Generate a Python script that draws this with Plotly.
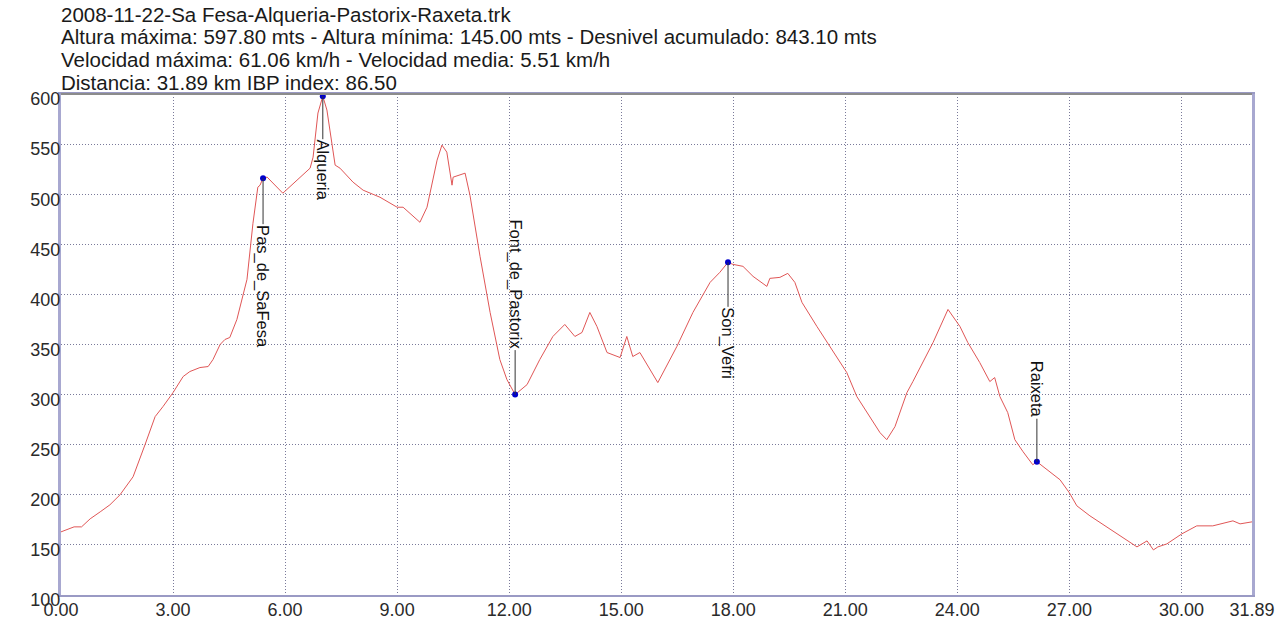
import plotly.graph_objects as go

# ---- data ----
dist_km = [0.0, 0.2, 0.35, 0.55, 0.78, 1.05, 1.31, 1.58, 1.93, 2.25, 2.52, 2.73, 3.0, 3.27, 3.45,
           3.72, 3.94, 4.07, 4.26, 4.39, 4.52, 4.71, 4.87, 4.98, 5.14, 5.27, 5.33, 5.41, 5.52, 5.68,
           5.94, 6.32, 6.67, 6.75, 6.88, 7.01, 7.12, 7.2, 7.34, 7.47, 7.82, 8.09, 8.54, 9.0, 9.16,
           9.61, 9.8, 10.07, 10.2, 10.33, 10.47, 10.5, 10.82, 10.95, 11.22, 11.49, 11.75, 11.94, 12.16,
           12.48, 12.82, 13.17, 13.49, 13.76, 13.95, 14.16, 14.35, 14.62, 14.97, 15.15, 15.31, 15.5,
           15.98, 16.49, 16.92, 17.38, 17.64, 17.86, 17.99, 18.26, 18.53, 18.9, 18.98, 19.25, 19.46,
           19.65, 19.84, 20.24, 20.59, 21.04, 21.31, 21.66, 21.93, 22.11, 22.33, 22.65, 22.81, 23.35,
           23.75, 24.07, 24.28, 24.6, 24.87, 25.0, 25.14, 25.35, 25.54, 25.76, 26.02, 26.13, 26.4,
           26.75, 27.0, 27.2, 27.55, 28.0, 28.54, 28.81, 29.08, 29.25, 29.37, 29.61, 30.01, 30.41,
           30.84, 31.38, 31.57, 31.89]
elev_m = [163, 166, 168, 168, 176, 183, 190, 200, 218, 250, 278, 288, 302, 318, 323,
          327, 328, 335, 350, 355, 357, 375, 398, 415, 471, 507, 509, 516, 517, 511,
          501, 514, 526, 537, 581, 597.8, 584, 564, 529, 526, 512, 504, 497, 487, 487,
          472, 487, 534, 549, 542, 509, 517, 521, 499, 438, 382, 335, 315, 300,
          310, 335, 358, 370, 358, 362, 382, 368, 342, 337, 358, 338, 342,
          312, 348, 382, 412, 422, 432, 430, 428, 418, 408, 416, 417, 421,
          412, 392, 368, 348, 322, 298, 278, 262, 255, 268, 302, 313, 352,
          385, 368, 352, 332, 313, 317, 298, 282, 255, 243, 230, 233, 225,
          215, 202, 189, 179, 168, 154, 148, 154, 145, 148, 151, 161, 169,
          169, 174, 171, 173]

wp_names = ["Pas_de_SaFesa", "Alqueria", "Font_de_Pastorix", "Son_Vefri", "Raixeta"]
wp_dist = [5.41, 7.01, 12.16, 17.86, 26.13]
wp_elev = [516, 597.8, 300, 432, 233]
wp_label_offset = [108, 74, -110, 81, -72]  # label centre offset below marker, px

x_ticks = [0, 3, 6, 9, 12, 15, 18, 21, 24, 27, 30, 31.89]
x_tick_text = ["0.00", "3.00", "6.00", "9.00", "12.00", "15.00", "18.00", "21.00",
               "24.00", "27.00", "30.00", "31.89"]
y_ticks = [100, 150, 200, 250, 300, 350, 400, 450, 500, 550, 600]

header_lines = [
    "2008-11-22-Sa Fesa-Alqueria-Pastorix-Raxeta.trk",
    "Altura máxima: 597.80 mts - Altura mínima: 145.00 mts - Desnivel acumulado: 843.10 mts",
    "Velocidad máxima: 61.06 km/h - Velocidad media: 5.51 km/h",
    "Distancia: 31.89 km IBP index: 86.50",
]
header_shift = [80, 58, 35, 12]

FONT = "Liberation Sans, Arial, sans-serif"

fig = go.Figure()
fig.add_trace(go.Scatter(x=dist_km, y=elev_m, mode="lines",
                         line=dict(color="#e05656", width=1), hoverinfo="skip",
                         showlegend=False))
fig.add_trace(go.Scatter(x=wp_dist, y=wp_elev, mode="markers",
                         marker=dict(color="#0000cc", size=6), showlegend=False))

annotations = []
for name, x, y, off in zip(wp_names, wp_dist, wp_elev, wp_label_offset):
    annotations.append(dict(x=x, y=y, xref="x", yref="y", text=name, textangle=90,
                            showarrow=True, ax=0, ay=off, arrowhead=0, arrowwidth=1,
                            arrowcolor="#333333", standoff=0, borderpad=0,
                            font=dict(family=FONT, size=16.5, color="#111111")))
for line, sh in zip(header_lines, header_shift):
    annotations.append(dict(x=0, y=1, xref="paper", yref="paper", xanchor="left",
                            yanchor="middle", yshift=sh, xshift=-1, borderpad=0, text=line,
                            showarrow=False,
                            font=dict(family=FONT, size=20.5, color="#1a1a1a")))

grid = dict(showgrid=True, gridcolor="#7a7a9a", griddash="1px,2px", gridwidth=1,
            zeroline=False, ticks="", automargin=False,
            tickfont=dict(family=FONT, size=18, color="#2a2a2a"))

fig.update_layout(
    width=1280, height=624,
    margin=dict(l=61, r=28, t=94, b=29, autoexpand=False),
    paper_bgcolor="white", plot_bgcolor="white",
    annotations=annotations,
    showlegend=False,
    shapes=[dict(type="line", xref="paper", yref="paper", x0=0, x1=1, y0=1, y1=1,
                 line=dict(color="#8c8c8c", width=2))],
)
fig.update_xaxes(range=[0, 31.89], tickvals=x_ticks, ticktext=x_tick_text,
                 showline=True, linecolor="#9a9ac4", linewidth=2, mirror=True,
                 ticklabelstandoff=-3, **grid)
fig.update_yaxes(range=[100, 600], tickvals=y_ticks,
                 showline=True, linecolor="#a8a8d0", linewidth=3, mirror=True,
                 ticklabelstandoff=-6, ticklabelshift=5, **grid)

fig.write_html("out.html", config={"displayModeBar": False},
               post_script="document.body.style.margin='0';document.body.style.overflow='hidden';")
